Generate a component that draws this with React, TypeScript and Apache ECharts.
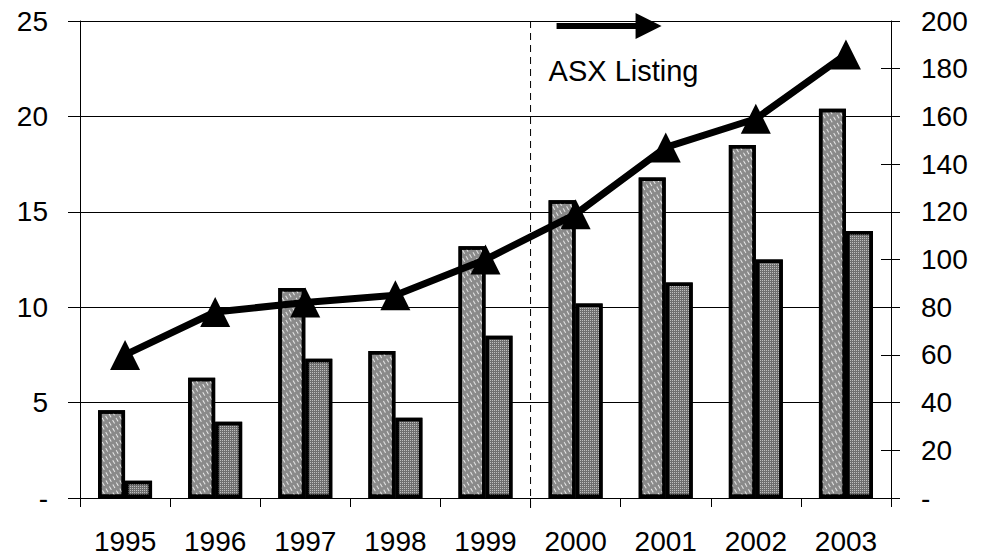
import React, { useEffect, useRef } from "react";
import * as echarts from "echarts";

// Categories and values
const years = ["1995", "1996", "1997", "1998", "1999", "2000", "2001", "2002", "2003"];
const barSeriesA = [4.6, 6.3, 11.0, 7.7, 13.2, 15.6, 16.8, 18.5, 20.4];
const barSeriesB = [0.9, 4.0, 7.3, 4.2, 8.5, 10.2, 11.3, 12.5, 14.0];
const lineSeries = [60, 78, 82, 85, 100, 119, 147, 159, 186];

// Axis ranges
const leftAxisMax = 25;
const leftAxisStep = 5;
const rightAxisMax = 200;
const rightAxisStep = 20;

// Annotation: the listing happened between these two years
const listingBefore = "1999";
const listingAfter = "2000";
const listingLabel = "ASX Listing";

const FONT = "Liberation Sans";

const dashLabel = (v: number) => (v === 0 ? "-" : String(v));

export default function App() {
  const ref = useRef<HTMLDivElement>(null);

  useEffect(() => {
    if (!ref.current) return;
    const chart = echarts.init(ref.current, null, { renderer: "svg" });

    const axisText = { color: "#000", fontSize: 28, fontFamily: FONT };
    const blackLine = { color: "#000", width: 1 };

    chart.setOption({
      animation: false,
      backgroundColor: "#fff",
      grid: { left: 80, right: 91, top: 21, bottom: 58, containLabel: false },
      xAxis: {
        type: "category",
        data: years,
        boundaryGap: true,
        axisLine: { show: true, lineStyle: blackLine },
        axisTick: { show: true, length: 9, lineStyle: blackLine },
        axisLabel: { ...axisText, margin: 29 },
        splitLine: { show: false },
      },
      yAxis: [
        {
          type: "value",
          position: "left",
          min: 0,
          max: leftAxisMax,
          interval: leftAxisStep,
          axisLine: { show: true, lineStyle: blackLine },
          axisTick: { show: true, length: 12, lineStyle: blackLine },
          axisLabel: { ...axisText, margin: 32, formatter: dashLabel },
          splitLine: { show: true, lineStyle: { color: "#000", width: 1 } },
        },
        {
          type: "value",
          position: "right",
          min: 0,
          max: rightAxisMax,
          interval: rightAxisStep,
          axisLine: { show: true, lineStyle: blackLine },
          axisTick: { show: true, length: 9, lineStyle: blackLine },
          axisLabel: { ...axisText, margin: 30, formatter: dashLabel },
          splitLine: { show: false },
        },
        {
          // inner half of the crossing ticks on the right axis
          type: "value",
          position: "right",
          min: 0,
          max: rightAxisMax,
          interval: rightAxisStep,
          axisLine: { show: false },
          axisTick: { show: true, inside: true, length: 10, lineStyle: blackLine },
          axisLabel: { show: false },
          splitLine: { show: false },
        },
      ],
      series: [
        {
          type: "bar",
          yAxisIndex: 0,
          data: barSeriesA,
          barWidth: 27,
          barGap: "0%",
          itemStyle: {
            color: "#8a8a8a",
            borderColor: "#000",
            borderWidth: 3.5,
            decal: {
              symbol: "rect",
              symbolSize: 1,
              color: "rgba(255,255,255,0.8)",
              dashArrayX: [[4, 3]],
              dashArrayY: [1, 3],
              rotation: Math.PI / 3,
            },
          },
        },
        {
          type: "bar",
          yAxisIndex: 0,
          data: barSeriesB,
          barWidth: 27,
          barGap: "0%",
          itemStyle: {
            color: "#6e6e6e",
            borderColor: "#000",
            borderWidth: 3.5,
            decal: {
              symbol: "rect",
              symbolSize: 1,
              color: "rgba(255,255,255,0.55)",
              dashArrayX: [1, 1],
              dashArrayY: [1, 1],
              rotation: 0,
            },
          },
        },
        {
          type: "line",
          yAxisIndex: 1,
          data: lineSeries,
          symbol: "triangle",
          symbolSize: 30,
          lineStyle: { color: "#000", width: 7 },
          itemStyle: { color: "#000" },
          z: 5,
        },
      ],
    });

    // Listing marker: dashed divider between two years, arrow and caption
    const xa = chart.convertToPixel({ xAxisIndex: 0 }, listingBefore) as number;
    const xb = chart.convertToPixel({ xAxisIndex: 0 }, listingAfter) as number;
    const xDiv = (xa + xb) / 2;
    const yTop = chart.convertToPixel({ yAxisIndex: 0 }, leftAxisMax) as number;
    const yBottom = chart.convertToPixel({ yAxisIndex: 0 }, 0) as number;

    chart.setOption({
      graphic: [
        {
          type: "line",
          shape: { x1: xDiv, y1: yTop, x2: xDiv, y2: yBottom + 10 },
          style: { stroke: "#000", lineWidth: 1, lineDash: [7, 5] },
          z: 10,
        },
        {
          type: "line",
          shape: { x1: xDiv + 26, y1: yTop + 5, x2: xDiv + 108, y2: yTop + 5 },
          style: { stroke: "#000", lineWidth: 6 },
          z: 10,
        },
        {
          type: "polygon",
          shape: {
            points: [
              [xDiv + 105, yTop - 8],
              [xDiv + 131, yTop + 5],
              [xDiv + 105, yTop + 18],
            ],
          },
          style: { fill: "#000" },
          z: 10,
        },
        {
          type: "text",
          x: xDiv + 18,
          y: yTop + 35,
          style: {
            text: listingLabel,
            font: `29px "${FONT}"`,
            fill: "#000",
            textVerticalAlign: "top",
          },
          z: 10,
        },
      ],
    });

    return () => chart.dispose();
  }, []);

  return (
    <div
      ref={ref}
      style={{ position: "absolute", left: 0, top: 0, width: 982, height: 556 }}
    />
  );
}
